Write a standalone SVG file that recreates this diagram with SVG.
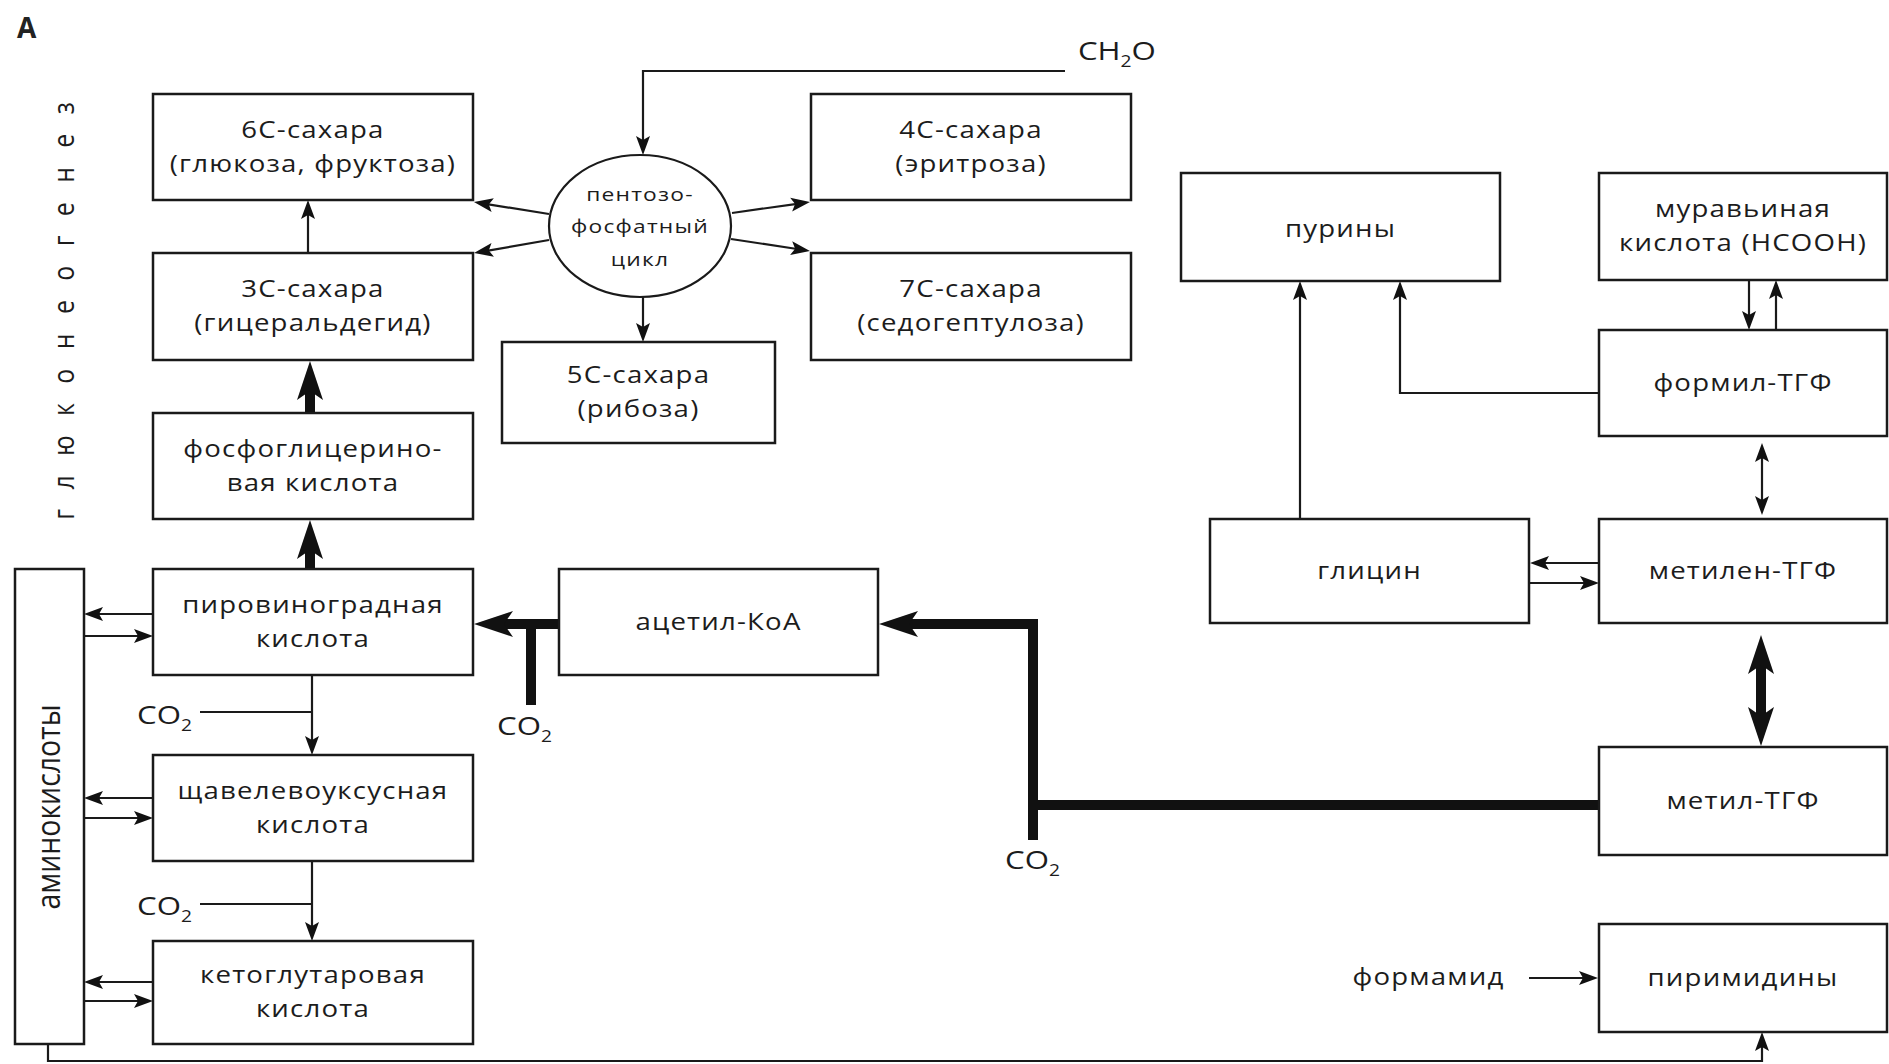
<svg xmlns="http://www.w3.org/2000/svg" width="1889" height="1064" viewBox="0 0 1889 1064">
  <style>
    .box { fill: #ffffff; stroke: #1a1a1a; stroke-width: 2.5; }
    .cyc { fill: #ffffff; stroke: #1a1a1a; stroke-width: 2.2; }
    .lbl { font-family: "Open Sans", "Noto Sans", sans-serif; font-size: 23px; font-weight: 500; fill: #1c1c1c; text-anchor: middle; letter-spacing: 1px; }
    .sm { font-size: 19px; }
    .chem { font-family: "Open Sans", "Noto Sans", sans-serif; font-size: 26px; font-weight: 500; fill: #1c1c1c; }
    .sub { font-size: 16px; }
    .vert { font-family: "Open Sans", "Noto Sans", sans-serif; font-weight: 500; fill: #1c1c1c; text-anchor: middle; }
    .thin { fill: none; stroke: #1a1a1a; stroke-width: 2.2; }
    .thick { fill: none; stroke: #111111; stroke-width: 10; stroke-linejoin: miter; }
    .head { fill: #111111; }
  </style>
  <defs>
    <marker id="ah" markerUnits="userSpaceOnUse" viewBox="-7 -8 21 16" refX="0" refY="0" markerWidth="21" markerHeight="16" orient="auto-start-reverse">
      <path class="head" d="M13,0 L-6,-7 L-2,0 L-6,7 Z"/>
    </marker>
    <marker id="AH" markerUnits="userSpaceOnUse" viewBox="-10 -14 41 28" refX="0" refY="0" markerWidth="41" markerHeight="28" orient="auto-start-reverse">
      <path class="head" d="M30,0 L-9,-13 L0,0 L-9,13 Z"/>
    </marker>
  </defs>

  <rect width="1889" height="1064" fill="#ffffff"/>

  <!-- panel letter and side caption -->
  <text x="17" y="38" font-family="Open Sans, Noto Sans, sans-serif" font-size="28" font-weight="bold" fill="#222">A</text>
  <text class="vert" font-size="30" transform="translate(73.5,311) rotate(-90) scale(0.83,1)" textLength="503" lengthAdjust="spacing">глюконеогенез</text>

  <!-- connectors -->
  <g id="connectors">
    <!-- thin arrows -->
    <path class="thin" d="M308,253 V213" marker-end="url(#ah)"/>
    <path class="thin" d="M1065,71 H643 V142" marker-end="url(#ah)"/>
    <path class="thin" d="M549,214 L486.8,204.1" marker-end="url(#ah)"/>
    <path class="thin" d="M549,240 L486.8,250.8" marker-end="url(#ah)"/>
    <path class="thin" d="M732,213 L797.1,203.8" marker-end="url(#ah)"/>
    <path class="thin" d="M731,239 L797.1,249" marker-end="url(#ah)"/>
    <path class="thin" d="M643,297 V329" marker-end="url(#ah)"/>
    <path class="thin" d="M312,675 V742" marker-end="url(#ah)"/>
    <path class="thin" d="M200,712 H312"/>
    <path class="thin" d="M312,861 V928" marker-end="url(#ah)"/>
    <path class="thin" d="M200,904 H312"/>
    <path class="thin" d="M153,614 H97" marker-end="url(#ah)"/>
    <path class="thin" d="M84,636 H140" marker-end="url(#ah)"/>
    <path class="thin" d="M153,798 H97" marker-end="url(#ah)"/>
    <path class="thin" d="M84,818 H140" marker-end="url(#ah)"/>
    <path class="thin" d="M153,982 H97" marker-end="url(#ah)"/>
    <path class="thin" d="M84,1001 H140" marker-end="url(#ah)"/>
    <path class="thin" d="M48,1044 V1061 H1762 V1045" marker-end="url(#ah)"/>
    <path class="thin" d="M1529,978 H1585" marker-end="url(#ah)"/>
    <path class="thin" d="M1300,519 V294" marker-end="url(#ah)"/>
    <path class="thin" d="M1599,393 H1400 V294" marker-end="url(#ah)"/>
    <path class="thin" d="M1749,280 V317" marker-end="url(#ah)"/>
    <path class="thin" d="M1776,330 V293" marker-end="url(#ah)"/>
    <path class="thin" d="M1762,456 V502" marker-start="url(#ah)" marker-end="url(#ah)"/>
    <path class="thin" d="M1599,563 H1543" marker-end="url(#ah)"/>
    <path class="thin" d="M1530,583 H1586" marker-end="url(#ah)"/>

    <!-- main carbon flow (thick) -->
    <path class="thick" d="M310,569 V550" marker-end="url(#AH)"/>
    <path class="thick" d="M310,413 V391" marker-end="url(#AH)"/>
    <path class="thick" d="M559,624 H504" marker-end="url(#AH)"/>
    <path class="thick" d="M531,624 V705"/>
    <path class="thick" d="M1599,805 H1033 V624 H909" marker-end="url(#AH)"/>
    <path class="thick" d="M1033,805 V840"/>
    <path class="thick" d="M1761,665 V716" marker-start="url(#AH)" marker-end="url(#AH)"/>

    <!-- small molecule inputs -->
    <text class="chem" transform="scale(1.2,1)" x="898.3" y="60">CH<tspan class="sub" dy="7">2</tspan><tspan dy="-7">O</tspan></text>
    <text class="chem" transform="scale(1.2,1)" x="114.2" y="724">CO<tspan class="sub" dy="7">2</tspan></text>
    <text class="chem" transform="scale(1.2,1)" x="114.2" y="915">CO<tspan class="sub" dy="7">2</tspan></text>
    <text class="chem" transform="scale(1.2,1)" x="414.2" y="735">CO<tspan class="sub" dy="7">2</tspan></text>
    <text class="chem" transform="scale(1.2,1)" x="837.5" y="869">CO<tspan class="sub" dy="7">2</tspan></text>
  </g>

  <!-- nodes -->
  <g id="sugar6">
    <rect class="box" x="153" y="94" width="320" height="106"/>
    <text class="lbl" transform="scale(1.2,1)" x="260.8" y="138">6C-сахара</text>
    <text class="lbl" transform="scale(1.2,1)" x="260.8" y="172">(глюкоза, фруктоза)</text>
  </g>
  <g id="sugar3">
    <rect class="box" x="153" y="253" width="320" height="107"/>
    <text class="lbl" transform="scale(1.2,1)" x="260.8" y="297.5">3C-сахара</text>
    <text class="lbl" transform="scale(1.2,1)" x="260.8" y="331.5">(гицеральдегид)</text>
  </g>
  <g id="phosphoglycerate">
    <rect class="box" x="153" y="413" width="320" height="106"/>
    <text class="lbl" transform="scale(1.2,1)" x="260.8" y="457">фосфоглицерино-</text>
    <text class="lbl" transform="scale(1.2,1)" x="260.8" y="491">вая кислота</text>
  </g>
  <g id="pyruvate">
    <rect class="box" x="153" y="569" width="320" height="106"/>
    <text class="lbl" transform="scale(1.2,1)" x="260.8" y="613">пировиноградная</text>
    <text class="lbl" transform="scale(1.2,1)" x="260.8" y="647">кислота</text>
  </g>
  <g id="oxaloacetate">
    <rect class="box" x="153" y="755" width="320" height="106"/>
    <text class="lbl" transform="scale(1.2,1)" x="260.8" y="799">щавелевоуксусная</text>
    <text class="lbl" transform="scale(1.2,1)" x="260.8" y="833">кислота</text>
  </g>
  <g id="ketoglutarate">
    <rect class="box" x="153" y="941" width="320" height="103"/>
    <text class="lbl" transform="scale(1.2,1)" x="260.8" y="983.5">кетоглутаровая</text>
    <text class="lbl" transform="scale(1.2,1)" x="260.8" y="1017.5">кислота</text>
  </g>
  <g id="aminoacids">
    <rect class="box" x="15" y="569" width="69" height="475"/>
    <text class="vert" font-size="33" transform="translate(60,807) rotate(-90) scale(0.83,1)" textLength="247" lengthAdjust="spacingAndGlyphs">аминокислоты</text>
  </g>
  <g id="acetylcoa">
    <rect class="box" x="559" y="569" width="319" height="106"/>
    <text class="lbl" transform="scale(1.2,1)" x="598.75" y="630">ацетил-КоА</text>
  </g>
  <g id="pentose-cycle">
    <ellipse class="cyc" cx="640" cy="226" rx="91" ry="71"/>
    <text class="lbl sm" transform="scale(1.2,1)" x="533.3" y="201">пентозо-</text>
    <text class="lbl sm" transform="scale(1.2,1)" x="533.3" y="233">фосфатный</text>
    <text class="lbl sm" transform="scale(1.2,1)" x="533.3" y="266">цикл</text>
  </g>
  <g id="sugar5">
    <rect class="box" x="502" y="342" width="273" height="101"/>
    <text class="lbl" transform="scale(1.2,1)" x="532.1" y="383.5">5C-сахара</text>
    <text class="lbl" transform="scale(1.2,1)" x="532.1" y="417.5">(рибоза)</text>
  </g>
  <g id="sugar4">
    <rect class="box" x="811" y="94" width="320" height="106"/>
    <text class="lbl" transform="scale(1.2,1)" x="809.2" y="138">4C-сахара</text>
    <text class="lbl" transform="scale(1.2,1)" x="809.2" y="172">(эритроза)</text>
  </g>
  <g id="sugar7">
    <rect class="box" x="811" y="253" width="320" height="107"/>
    <text class="lbl" transform="scale(1.2,1)" x="809.2" y="297.5">7C-сахара</text>
    <text class="lbl" transform="scale(1.2,1)" x="809.2" y="331.5">(седогептулоза)</text>
  </g>
  <g id="purines">
    <rect class="box" x="1181" y="173" width="319" height="108"/>
    <text class="lbl" transform="scale(1.2,1)" x="1117.1" y="237">пурины</text>
  </g>
  <g id="formic-acid">
    <rect class="box" x="1599" y="173" width="288" height="107"/>
    <text class="lbl" transform="scale(1.2,1)" x="1452.5" y="217.5">муравьиная</text>
    <text class="lbl" transform="scale(1.2,1)" x="1452.5" y="251.5">кислота (НСООН)</text>
  </g>
  <g id="formyl-thf">
    <rect class="box" x="1599" y="330" width="288" height="106"/>
    <text class="lbl" transform="scale(1.2,1)" x="1452.5" y="391">формил-ТГФ</text>
  </g>
  <g id="glycine">
    <rect class="box" x="1210" y="519" width="319" height="104"/>
    <text class="lbl" transform="scale(1.2,1)" x="1141.25" y="579">глицин</text>
  </g>
  <g id="methylene-thf">
    <rect class="box" x="1599" y="519" width="288" height="104"/>
    <text class="lbl" transform="scale(1.2,1)" x="1452.5" y="579">метилен-ТГФ</text>
  </g>
  <g id="methyl-thf">
    <rect class="box" x="1599" y="747" width="288" height="108"/>
    <text class="lbl" transform="scale(1.2,1)" x="1452.5" y="809">метил-ТГФ</text>
  </g>
  <g id="pyrimidines">
    <rect class="box" x="1599" y="924" width="288" height="108"/>
    <text class="lbl" transform="scale(1.2,1)" x="1452.5" y="986">пиримидины</text>
  </g>
  <g id="formamide">
    <text class="lbl" transform="scale(1.2,1)" x="1190.4" y="985">формамид</text>
  </g>
</svg>
